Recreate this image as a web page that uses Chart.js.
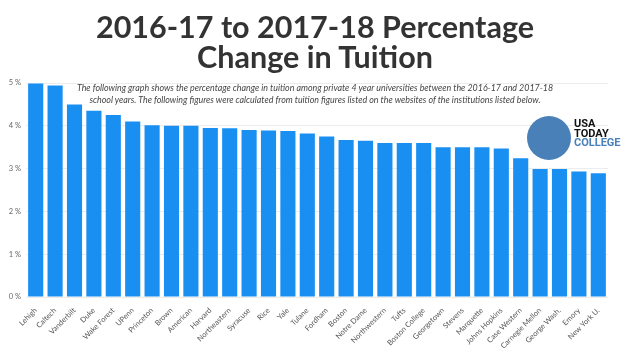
<!DOCTYPE html>
<html>
<head>
<meta charset="utf-8">
<script src="https://cdn.jsdelivr.net/npm/chart.js@4"></script>
<style>
  body { margin: 0; background: #fff; }
  #wrap { position: relative; width: 630px; height: 354px; overflow: hidden; }
  #title { position: absolute; left: 0; top: 11px; width: 630px; text-align: center;
    font: 700 30.5px/30px Lato, sans-serif; color: #333; }
  #note { position: absolute; left: 0; top: 82px; width: 630px; text-align: center;
    font: italic 8.9px/12px Lato, sans-serif; color: #444; }
  #logo { position: absolute; left: 527px; top: 116px; }
  #logo .dot { position: absolute; left: 0; top: 0; width: 44px; height: 44px; border-radius: 50%; background: #4a80b8; }
  #logo .txt { position: absolute; left: 47px; top: 3px; font: 700 11px/9.5px "Liberation Sans Narrow", "Roboto", sans-serif; color: #111; }
  #logo .txt span { color: #4a80b8; }
  canvas { position: absolute; left: 0; top: 0; }
</style>
</head>
<body>
<div id="wrap">
  <canvas id="chart" width="630" height="354"></canvas>
  <div id="title">2016-17 to 2017-18 Percentage<br>Change in Tuition</div>
  <div id="note">The following graph shows the percentage change in tuition among private 4 year universities between the 2016-17 and 2017-18<br>school years. The following figures were calculated from tuition figures listed on the websites of the institutions listed below.</div>
  <div id="logo"><div class="dot"></div><div class="txt">USA<br>TODAY<br><span>COLLEGE</span></div></div>
</div>
<script>
const schools = ["Lehigh", "Caltech", "Vanderbilt", "Duke", "Wake Forest", "UPenn", "Princeton", "Brown",
  "American", "Harvard", "Northeastern", "Syracuse", "Rice", "Yale", "Tulane", "Fordham", "Boston",
  "Notre Dame", "Northwestern", "Tufts", "Boston College", "Georgetown", "Stevens", "Marquette",
  "Johns Hopkins", "Case Western", "Carnegie Mellon", "George Wash.", "Emory", "New York U."];
const change = [4.99, 4.94, 4.50, 4.35, 4.25, 4.10, 4.01, 4.00, 4.00, 3.95, 3.94, 3.90, 3.89, 3.88, 3.82,
  3.75, 3.67, 3.65, 3.60, 3.60, 3.60, 3.50, 3.50, 3.50, 3.47, 3.24, 2.99, 2.99, 2.93, 2.89];
const yTicks = [0, 1, 2, 3, 4, 5];

new Chart(document.getElementById("chart"), {
  type: "bar",
  data: {
    labels: schools,
    datasets: [{ data: change, backgroundColor: "#1a8ff2", categoryPercentage: 1, barPercentage: 0.78 }]
  },
  options: {
    responsive: false,
    animation: false,
    layout: { padding: { top: 83, right: 22, left: 0, bottom: 0 } },
    plugins: { legend: { display: false }, tooltip: { enabled: false } },
    scales: {
      x: {
        grid: { display: false },
        border: { display: false },
        ticks: { color: "#555", font: { family: "Lato", size: 7.5 }, maxRotation: 45, minRotation: 45, autoSkip: false, padding: 1 },
        afterFit: s => { s.height = 57; }
      },
      y: {
        min: 0, max: 5,
        afterBuildTicks: s => { s.ticks = yTicks.map(v => ({ value: v })); },
        grid: { color: "#ececec", drawTicks: false },
        border: { display: false },
        ticks: { color: "#666", font: { family: "Lato", size: 7.5 }, padding: 5, callback: v => v + " %" },
        afterFit: s => { s.width = 26; }
      }
    }
  }
});
</script>
</body>
</html>
